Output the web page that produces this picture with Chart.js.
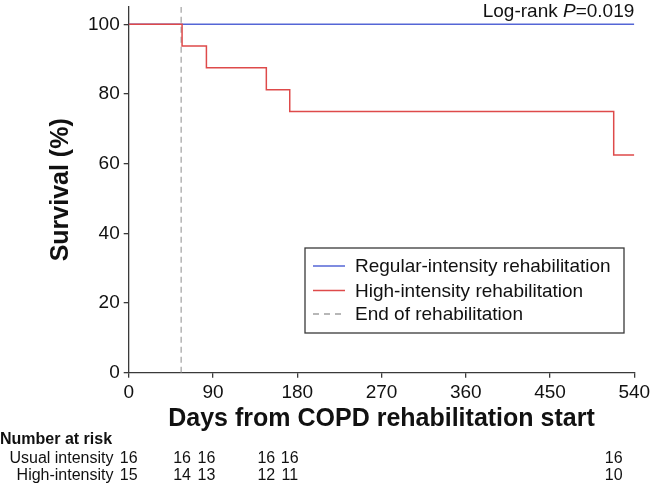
<!DOCTYPE html>
<html>
<head>
<meta charset="utf-8">
<script src="https://cdn.jsdelivr.net/npm/chart.js@4"></script>
<style>
  html, body { margin: 0; padding: 0; background: #fff; }
</style>
</head>
<body>
<canvas id="km" width="650" height="484"></canvas>
<script>
// Kaplan-Meier curves
const days = [0, 57, 83, 147, 172, 518, 540];
const regularSurvival = [100, 100, 100, 100, 100, 100, 100];
const highSurvival = [100, 93.75, 87.5, 81.25, 75, 62.5, 62.5];
const rehabEndDay = 56;
const xTicks = [0, 90, 180, 270, 360, 450, 540];
const yTicks = [0, 20, 40, 60, 80, 100];

// number at risk table
const riskDays = [0, 57, 83, 147, 172, 518];
const riskUsual = [16, 16, 16, 16, 16, 16];
const riskHigh = [15, 14, 13, 12, 11, 10];
const riskRows = ['Usual intensity', 'High-intensity'];
const pValue = '0.019';

const FONT = '"Liberation Sans", Arial, Helvetica, sans-serif';
const AXIS = '#3a3a3a';
const TEXT = '#111';

const pts = (xs, ys) => xs.map((d, i) => ({ x: d, y: ys[i] }));

const extras = {
  id: 'extras',
  afterDraw(chart) {
    const { ctx, chartArea, scales: { x } } = chart;
    ctx.save();
    ctx.fillStyle = TEXT;

    // Log-rank P text, right aligned with the plot
    const base = 17;
    let right = chartArea.right;
    ctx.textAlign = 'right';
    ctx.textBaseline = 'alphabetic';
    ctx.font = '19px ' + FONT;
    const tail = '=' + pValue;
    ctx.fillText(tail, right, base);
    right -= ctx.measureText(tail).width;
    ctx.font = 'italic 19px ' + FONT;
    ctx.fillText('P', right, base);
    right -= ctx.measureText('P').width;
    ctx.font = '19px ' + FONT;
    ctx.fillText('Log-rank ', right, base);

    // legend box
    const bx = 305, by = 248, bw = 319, bh = 85;
    ctx.strokeStyle = AXIS;
    ctx.lineWidth = 1.3;
    ctx.strokeRect(bx, by, bw, bh);
    const rows = [266, 290.5, 314];
    ctx.textAlign = 'left';
    ctx.textBaseline = 'middle';
    ctx.font = '19px ' + FONT;
    chart.data.datasets.forEach((ds, i) => {
      const y = rows[i];
      ctx.strokeStyle = ds.borderColor;
      ctx.lineWidth = 1.5;
      ctx.setLineDash(ds.borderDash ? [6, 5] : []);
      ctx.beginPath();
      ctx.moveTo(313, y);
      ctx.lineTo(345, y);
      ctx.stroke();
      ctx.setLineDash([]);
      ctx.fillStyle = TEXT;
      ctx.fillText(ds.label, 355, y + 1);
    });

    // number at risk
    ctx.textBaseline = 'alphabetic';
    ctx.font = 'bold 16px ' + FONT;
    ctx.textAlign = 'left';
    ctx.fillText('Number at risk', 0, 444);
    ctx.font = '16px ' + FONT;
    const lines = [riskUsual, riskHigh];
    const baselines = [463.3, 480];
    lines.forEach((vals, r) => {
      ctx.textAlign = 'right';
      ctx.fillText(riskRows[r], 113.5, baselines[r]);
      ctx.textAlign = 'center';
      vals.forEach((v, i) => {
        ctx.fillText(String(v), x.getPixelForValue(riskDays[i]), baselines[r]);
      });
    });
    ctx.restore();
  }
};

new Chart(document.getElementById('km'), {
  type: 'line',
  data: {
    datasets: [
      {
        label: 'Regular-intensity rehabilitation',
        data: pts(days, regularSurvival),
        borderColor: '#5566d6',
        borderWidth: 1.5,
        stepped: 'before',
        pointRadius: 0,
        order: 1,
      },
      {
        label: 'High-intensity rehabilitation',
        data: pts(days, highSurvival),
        borderColor: '#de4a4a',
        borderWidth: 1.5,
        stepped: 'before',
        pointRadius: 0,
        order: 0,
      },
      {
        label: 'End of rehabilitation',
        data: [{ x: rehabEndDay, y: 0 }, { x: rehabEndDay, y: 105 }],
        borderColor: '#a0a0a0',
        borderWidth: 1.2,
        borderDash: [6, 4],
        pointRadius: 0,
        order: 2,
      },
    ],
  },
  options: {
    responsive: false,
    animation: false,
    layout: { padding: { top: 6.9, right: 15.7, bottom: 50, left: 0 } },
    plugins: {
      legend: { display: false },
      tooltip: { enabled: false },
    },
    scales: {
      x: {
        type: 'linear',
        min: 0,
        max: 540,
        afterBuildTicks: (s) => { s.ticks = xTicks.map(v => ({ value: v })); },
        afterFit: (s) => { s.height = 61.3; s.paddingLeft = 0; s.paddingRight = 0; },
        ticks: { color: TEXT, font: { family: FONT, size: 19 }, padding: 4, maxRotation: 0 },
        grid: { drawOnChartArea: false, tickLength: 5, color: AXIS, lineWidth: 1.3 },
        border: { color: AXIS, width: 1.3 },
        title: {
          display: true,
          text: 'Days from COPD rehabilitation start',
          color: TEXT,
          font: { family: FONT, size: 25, weight: 'bold' },
          padding: { top: 0, bottom: 0 },
        },
      },
      y: {
        min: 0,
        max: 105,
        afterBuildTicks: (s) => { s.ticks = yTicks.map(v => ({ value: v })); },
        afterFit: (s) => { s.width = 128.7; s.paddingTop = 0; s.paddingBottom = 0; },
        ticks: { color: TEXT, font: { family: FONT, size: 19 }, padding: 4 },
        grid: { drawOnChartArea: false, tickLength: 5, color: AXIS, lineWidth: 1.3 },
        border: { color: AXIS, width: 1.3 },
        title: {
          display: true,
          text: 'Survival (%)',
          color: TEXT,
          font: { family: FONT, size: 25, weight: 'bold' },
          padding: { top: 46, bottom: 0 },
        },
      },
    },
  },
  plugins: [extras],
});
</script>
</body>
</html>
